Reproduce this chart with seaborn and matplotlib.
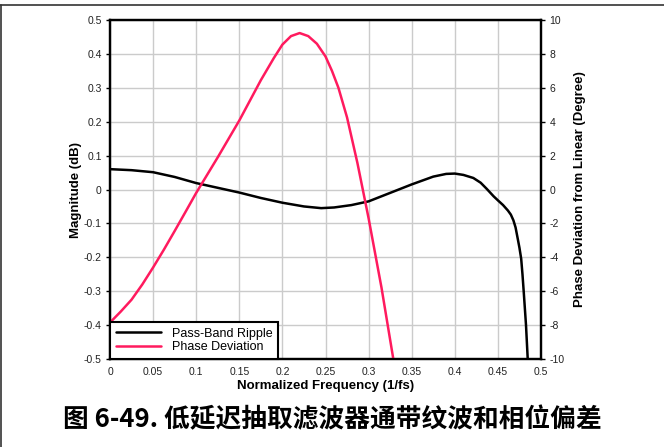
import numpy as np
import pandas as pd
import matplotlib
matplotlib.use("Agg")
import matplotlib.pyplot as plt
from matplotlib.lines import Line2D
import seaborn as sns

# ---- data ----
freq_mag = [0.0, 0.025, 0.05, 0.075, 0.1, 0.125, 0.15, 0.175, 0.2, 0.225, 0.245,
            0.26, 0.28, 0.3, 0.325, 0.35, 0.375, 0.39, 0.4, 0.41, 0.4215, 0.43,
            0.437, 0.445, 0.45, 0.456, 0.4616, 0.465, 0.468, 0.4705, 0.473, 0.475,
            0.477, 0.4785, 0.48, 0.4826, 0.4846, 0.4852]
magnitude_db = [0.060, 0.057, 0.051, 0.037, 0.019, 0.005, -0.009, -0.025, -0.039, -0.050, -0.055,
                -0.053, -0.046, -0.035, -0.010, 0.015, 0.038, 0.046, 0.047, 0.043, 0.034, 0.020,
                0.002, -0.020, -0.032, -0.046, -0.062, -0.074, -0.091, -0.112, -0.145, -0.172,
                -0.204, -0.25, -0.303, -0.40, -0.50, -0.53]

freq_phase = [0.0, 0.0125, 0.025, 0.0375, 0.05, 0.0625, 0.075, 0.0875, 0.1, 0.125, 0.15,
              0.175, 0.19, 0.2, 0.21, 0.22, 0.23, 0.24, 0.25, 0.2575, 0.265, 0.275,
              0.287, 0.3, 0.315, 0.329]
phase_deg = [-7.85, -7.2, -6.5, -5.6, -4.6, -3.55, -2.45, -1.33, -0.2, 1.9, 4.07,
             6.45, 7.75, 8.55, 9.05, 9.23, 9.05, 8.6, 7.85, 7.0, 6.0, 4.25,
             1.57, -1.7, -5.8, -10.1]

x_ticks = [0, 0.05, 0.1, 0.15, 0.2, 0.25, 0.3, 0.35, 0.4, 0.45, 0.5]
x_tick_labels = ["0", "0.05", "0.1", "0.15", "0.2", "0.25", "0.3", "0.35", "0.4", "0.45", "0.5"]
mag_ticks = [-0.5, -0.4, -0.3, -0.2, -0.1, 0, 0.1, 0.2, 0.3, 0.4, 0.5]
mag_tick_labels = ["-0.5", "-0.4", "-0.3", "-0.2", "-0.1", "0", "0.1", "0.2", "0.3", "0.4", "0.5"]
phase_ticks = [-10, -8, -6, -4, -2, 0, 2, 4, 6, 8, 10]
phase_tick_labels = ["-10", "-8", "-6", "-4", "-2", "0", "2", "4", "6", "8", "10"]

series_names = ["Pass-Band Ripple", "Phase Deviation"]
title_text = "图 6-49. 低延迟抽取滤波器通带纹波和相位偏差"

# ---- styling ----
sns.set_theme(style="white")
plt.rcParams["font.family"] = ["Liberation Sans", "DejaVu Sans"]

BLACK = "#000000"
RED = "#ff1a5e"
GRID = "#cbcbcb"
TXT = "#222222"

fig = plt.figure(figsize=(6.64, 4.47), dpi=100)
ax = fig.add_axes([110 / 664, 1 - 359 / 447, 431 / 664, 339 / 447])
ax2 = ax.twinx()

mag_df = pd.DataFrame({"f": freq_mag, "v": magnitude_db})
ph_df = pd.DataFrame({"f": freq_phase, "v": phase_deg})

sns.lineplot(data=mag_df, x="f", y="v", ax=ax, color=BLACK, linewidth=1.8,
             legend=False, sort=False)
sns.lineplot(data=ph_df, x="f", y="v", ax=ax2, color=RED, linewidth=1.8,
             legend=False, sort=False)

ax.set_xlim(0, 0.5)
ax.set_ylim(-0.5, 0.5)
ax2.set_ylim(-10, 10)

ax.set_xticks(x_ticks)
ax.set_xticklabels(x_tick_labels)
ax.set_yticks(mag_ticks)
ax.set_yticklabels(mag_tick_labels)
ax2.set_yticks(phase_ticks)
ax2.set_yticklabels(phase_tick_labels)

ax.grid(True, color=GRID, linewidth=1.0)
ax2.grid(False)
ax.set_axisbelow(True)

for a in (ax, ax2):
    for s in a.spines.values():
        s.set_color(BLACK)
        s.set_linewidth(1.6)
    a.tick_params(axis="both", length=3, width=1, color=BLACK, labelsize=7.5,
                  labelcolor=TXT, pad=3)

ax.set_xlabel("Normalized Frequency (1/fs)", fontsize=9.5, fontweight="bold",
              color=BLACK, labelpad=2)
ax.set_ylabel("Magnitude (dB)", fontsize=9.5, fontweight="bold", color=BLACK, labelpad=1.5)
ax2.set_ylabel("Phase Deviation from Linear (Degree)", fontsize=9.5, fontweight="bold",
               color=BLACK, labelpad=7)

handles = [ax.get_lines()[0], ax2.get_lines()[0]]
leg = ax2.legend(handles, series_names, loc="lower left", bbox_to_anchor=(0, 0),
                 borderaxespad=0, frameon=True, fancybox=False, fontsize=9,
                 handlelength=3.6, handletextpad=0.9, borderpad=0.45,
                 labelspacing=0.15, framealpha=1)
leg.get_frame().set_edgecolor(BLACK)
leg.get_frame().set_linewidth(1.5)
for t in leg.get_texts():
    t.set_color(BLACK)

fig.text(332.5 / 664, 1 - 420 / 447, title_text, ha="center", va="center",
         fontsize=18.5, fontweight="bold", color=BLACK,
         family=["Noto Sans CJK SC", "DejaVu Sans"])

# figure frame lines (top and left)
fig.add_artist(Line2D([0, 1], [1 - 5 / 447, 1 - 5 / 447], transform=fig.transFigure,
                      color="#333333", linewidth=1.2))
fig.add_artist(Line2D([0.5 / 664, 0.5 / 664], [0, 1 - 5 / 447], transform=fig.transFigure,
                      color="#333333", linewidth=1.2))

fig.savefig("out.png", dpi=100)
